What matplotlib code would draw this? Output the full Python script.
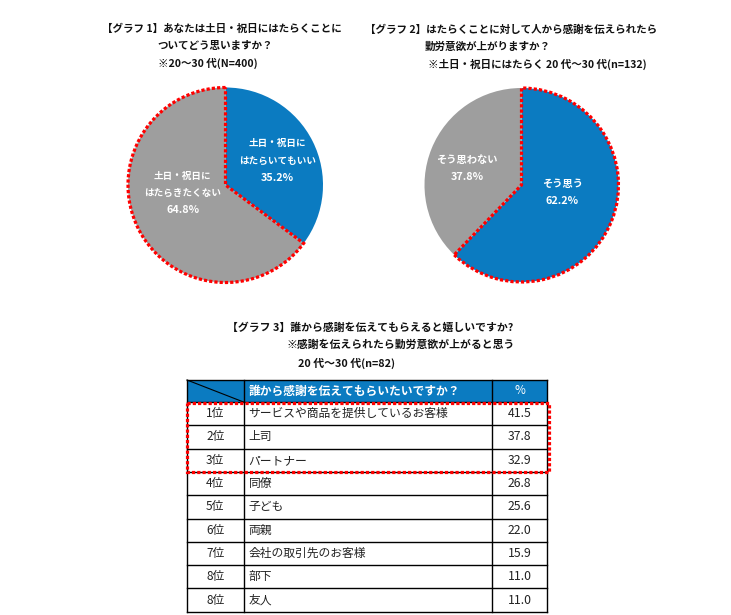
import matplotlib
matplotlib.use("Agg")
import matplotlib.pyplot as plt
from matplotlib.patches import Wedge, Rectangle

plt.rcParams['font.family'] = ['Noto Sans CJK JP', 'DejaVu Sans']

# ---------------- data ----------------
pie1_title = ["【グラフ 1】あなたは土日・祝日にはたらくことに", "ついてどう思いますか？", "※20～30 代(N=400)"]
pie1_labels = ["土日・祝日に\nはたらいてもいい", "土日・祝日に\nはたらきたくない"]
pie1_values = [35.2, 64.8]

pie2_title = ["【グラフ 2】はたらくことに対して人から感謝を伝えられたら", "勤労意欲が上がりますか？", "※土日・祝日にはたらく 20 代～30 代(n=132)"]
pie2_labels = ["そう思う", "そう思わない"]
pie2_values = [62.2, 37.8]

table_title = ["【グラフ 3】誰から感謝を伝えてもらえると嬉しいですか?", "※感謝を伝えられたら勤労意欲が上がると思う", "20 代～30 代(n=82)"]
table_header = ["", "誰から感謝を伝えてもらいたいですか？", "%"]
ranks = ["1位", "2位", "3位", "4位", "5位", "6位", "7位", "8位", "8位"]
items = ["サービスや商品を提供しているお客様", "上司", "パートナー", "同僚", "子ども",
         "両親", "会社の取引先のお客様", "部下", "友人"]
pcts = [41.5, 37.8, 32.9, 26.8, 25.6, 22.0, 15.9, 11.0, 11.0]

BLUE = '#0B7BC1'
GREY = '#9E9E9E'
RED = '#FF0000'
DOT = (0, (1, 0.65))
W, H = 731, 615

fig = plt.figure(figsize=(W / 100, H / 100), dpi=100)
ax0 = fig.add_axes([0, 0, 1, 1])
ax0.set_xlim(0, W)
ax0.set_ylim(H, 0)
ax0.axis('off')

# ---------------- titles ----------------
def title_lines(lines, xs, ys, size=7.6):
    for t, x, y in zip(lines, xs, ys):
        ax0.text(x, y, t, ha='left', va='center', fontsize=size, fontweight='bold', color='#111111')

title_lines(pie1_title, [102, 157, 158], [29, 46, 63])
title_lines(pie2_title, [365, 425, 428], [30, 47, 64])
title_lines(table_title, [227, 287, 298], [328, 345, 363], size=7.8)

# ---------------- pies ----------------
def draw_pie(cx, cy, r, values, labels, colors, hl_index, label_pos, pct_values, lab_size):
    side = 2.5 * r
    ax = fig.add_axes([(cx - side / 2) / W, (H - cy - side / 2) / H, side / W, side / H])
    wedges, _ = ax.pie(values, colors=colors, startangle=90, counterclock=False,
                       wedgeprops=dict(linewidth=0))
    ax.set_xlim(-1.25, 1.25)
    ax.set_ylim(-1.25, 1.25)
    ax.set_aspect('equal')
    w = wedges[hl_index]
    outline = Wedge(w.center, w.r, w.theta1, w.theta2, fill=False, edgecolor=RED,
                    linewidth=2.3, linestyle=DOT, capstyle='butt', joinstyle='miter', zorder=5)
    ax.add_patch(outline)
    for lab, val, (lx, ly) in zip(labels, pct_values, label_pos):
        lines = lab.split("\n") + [f"{val:.1f}%"]
        n = len(lines)
        step = 0.178
        for i, t in enumerate(lines):
            y = ly + (n - 1) / 2 * step - i * step
            is_pct = (i == n - 1)
            ax.text(lx, y, t, ha='center', va='center',
                    fontsize=7.8 if is_pct else lab_size, fontweight='bold', color='white')
    return ax

draw_pie(225.5, 185, 97.5, pie1_values, pie1_labels, [BLUE, GREY], 1,
         [(0.53, 0.25), (-0.44, -0.08)], pie1_values, 6.9)
draw_pie(521.5, 185, 97, pie2_values, pie2_labels, [BLUE, GREY], 0,
         [(0.42, -0.08), (-0.56, 0.17)], pie2_values, 7.4)

# ---------------- table ----------------
x_cols = [187, 243.5, 492, 547]
y_top = 380
hdr_h = 22
row_h = 23.3
y_hdr_bot = y_top + hdr_h
y_bot = y_hdr_bot + row_h * len(ranks)

ax0.add_patch(Rectangle((x_cols[0], y_top), x_cols[-1] - x_cols[0], hdr_h,
                        facecolor=BLUE, edgecolor='none', zorder=1))
ax0.plot([x_cols[0], x_cols[1]], [y_top, y_hdr_bot], color='black', lw=0.8, zorder=2)
ax0.text(x_cols[1] + 5, y_top + hdr_h / 2, table_header[1], ha='left', va='center',
         fontsize=8.5, fontweight='bold', color='white')
ax0.text((x_cols[2] + x_cols[3]) / 2, y_top + hdr_h / 2, table_header[2], ha='center', va='center',
         fontsize=8.5, color='white')

for i, (rk, it, pc) in enumerate(zip(ranks, items, pcts)):
    yc = y_hdr_bot + row_h * (i + 0.5)
    ax0.text((x_cols[0] + x_cols[1]) / 2, yc, rk, ha='center', va='center', fontsize=8.5, color='#222222')
    ax0.text(x_cols[1] + 5, yc, it, ha='left', va='center', fontsize=8.5, color='#222222')
    ax0.text((x_cols[2] + x_cols[3]) / 2, yc, f"{pc:.1f}", ha='center', va='center', fontsize=8.8, color='#222222')

# grid lines
ys = [y_top, y_hdr_bot] + [y_hdr_bot + row_h * (i + 1) for i in range(len(ranks))]
for y in ys:
    ax0.plot([x_cols[0], x_cols[-1]], [y, y], color='black', lw=1.0, zorder=2)
for x in x_cols:
    ax0.plot([x, x], [y_top, y_bot], color='black', lw=1.0, zorder=2)

# highlight box on top 3 rows
hl_top = y_hdr_bot + 1
hl_bot = y_hdr_bot + row_h * 3
ax0.add_patch(Rectangle((x_cols[0], hl_top), 549 - x_cols[0], hl_bot - hl_top, fill=False,
                        edgecolor=RED, linewidth=2.3, linestyle=DOT, capstyle='butt', zorder=4))

fig.savefig("out.png", dpi=100)
